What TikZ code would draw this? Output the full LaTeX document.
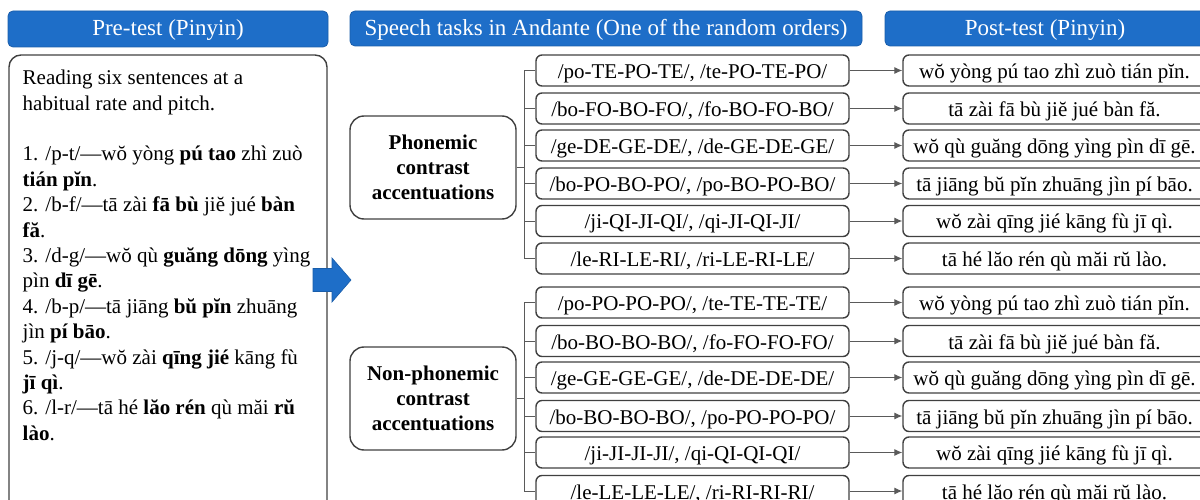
\documentclass[tikz,border=0pt]{standalone}
\usepackage{fontspec}
\setmainfont{Liberation Serif}
\usetikzlibrary{arrows.meta}
\definecolor{hdrblue}{RGB}{30,110,200}
\definecolor{boxline}{RGB}{64,64,64}
\definecolor{conn}{RGB}{90,90,90}
\tikzset{
  hdr/.style={draw=hdrblue!85!black, line width=0.8pt, fill=hdrblue, rounded corners=5pt,
    text=white, font=\fontsize{23}{27}\selectfont, inner sep=0pt,
    text height=18pt, text depth=4pt},
  taskbox/.style={draw=boxline, line width=1.4pt, rounded corners=6pt,
    minimum width=313pt, minimum height=31pt, inner sep=0pt,
    font=\fontsize{21}{25}\selectfont, text height=20pt, text depth=4pt},
  postbox/.style={taskbox, minimum width=303pt},
  catbox/.style={draw=boxline, line width=1.4pt, rounded corners=14pt,
    minimum width=166pt, minimum height=103pt, align=center, inner sep=0pt,
    font=\bfseries\fontsize{21}{25.3}\selectfont},
  bigbox/.style={draw=boxline, line width=1.4pt, rounded corners=12pt, inner sep=0pt},
  link/.style={draw=conn, line width=1pt},
  toarrow/.style={link, -{Latex[length=8pt,width=7pt]}}
}
\begin{document}
\begin{tikzpicture}[x=1pt,y=-1pt]
\useasboundingbox (0,0) rectangle (1200,500);
\begin{scope}
\clip (0,0) rectangle (1200,500);
% headers
\node[hdr, minimum width=320pt, minimum height=36pt] (h1) at (168,29) {Pre-test (Pinyin)};
\node[hdr, minimum width=512pt, minimum height=35pt] (h2) at (606,28.5) {Speech tasks in Andante (One of the random orders)};
\node[hdr, minimum width=320pt, minimum height=35pt] (h3) at (1045,28.5) {Post-test (Pinyin)};
% pre-test box
\node[bigbox, minimum width=318pt, minimum height=470pt] (prebox) at (168,290) {};
\node[anchor=north west, align=left, inner sep=0pt, font=\fontsize{21}{25.4}\selectfont] (pretext) at (22.5,70)
{Reading six sentences at a\\
habitual rate and pitch.\\
\mbox{}\\
1. /p-t/—wŏ yòng \textbf{pú tao} zhì zuò\\
\textbf{tián pĭn}.\\
2. /b-f/—tā zài \textbf{fā bù} jiĕ jué \textbf{bàn}\\
\textbf{fă}.\\
3. /d-g/—wŏ qù \textbf{guăng dōng} yìng\\
pìn \textbf{dī gē}.\\
4. /b-p/—tā jiāng \textbf{bŭ pĭn} zhuāng\\
jìn \textbf{pí bāo}.\\
5. /j-q/—wŏ zài \textbf{qīng jié} kāng fù\\
\textbf{jī qì}.\\
6. /l-r/—tā hé \textbf{lăo rén} qù măi \textbf{rŭ}\\
\textbf{lào}.};
% big blue arrow
\fill[hdrblue, draw=hdrblue!85!black, line width=0.6pt]
  (313,268.5) -- (332,268.5) -- (332,258) -- (351,280) -- (332,302) -- (332,291.5) -- (313,291.5) -- cycle;
% category boxes
\node[catbox] (pc) at (433,167.5) {Phonemic\\contrast\\accentuations};
\node[catbox] (nc) at (433,398.5) {Non-phonemic\\contrast\\accentuations};
% task boxes
\node[taskbox] (t1) at (692.5,70.5) {/po-TE-PO-TE/, /te-PO-TE-PO/};
\node[taskbox] (t2) at (692.5,108.5) {/bo-FO-BO-FO/, /fo-BO-FO-BO/};
\node[taskbox] (t3) at (692.5,145.5) {/ge-DE-GE-DE/, /de-GE-DE-GE/};
\node[taskbox] (t4) at (692.5,183.5) {/bo-PO-BO-PO/, /po-BO-PO-BO/};
\node[taskbox] (t5) at (692.5,221) {/ji-QI-JI-QI/, /qi-JI-QI-JI/};
\node[taskbox] (t6) at (692.5,258.5) {/le-RI-LE-RI/, /ri-LE-RI-LE/};
\node[taskbox] (t7) at (692.5,302.5) {/po-PO-PO-PO/, /te-TE-TE-TE/};
\node[taskbox] (t8) at (692.5,341) {/bo-BO-BO-BO/, /fo-FO-FO-FO/};
\node[taskbox] (t9) at (692.5,377.5) {/ge-GE-GE-GE/, /de-DE-DE-DE/};
\node[taskbox] (t10) at (692.5,416) {/bo-BO-BO-BO/, /po-PO-PO-PO/};
\node[taskbox] (t11) at (692.5,452.5) {/ji-JI-JI-JI/, /qi-QI-QI-QI/};
\node[taskbox] (t12) at (692.5,491) {/le-LE-LE-LE/, /ri-RI-RI-RI/};
% post boxes
\node[postbox] (p1) at (1054.5,70.5) {wŏ yòng pú tao zhì zuò tián pĭn.};
\node[postbox] (p2) at (1054.5,108.5) {tā zài fā bù jiĕ jué bàn fă.};
\node[postbox] (p3) at (1054.5,145.5) {wŏ qù guăng dōng yìng pìn dī gē.};
\node[postbox] (p4) at (1054.5,183.5) {tā jiāng bŭ pĭn zhuāng jìn pí bāo.};
\node[postbox] (p5) at (1054.5,221) {wŏ zài qīng jié kāng fù jī qì.};
\node[postbox] (p6) at (1054.5,258.5) {tā hé lăo rén qù măi rŭ lào.};
\node[postbox] (p7) at (1054.5,302.5) {wŏ yòng pú tao zhì zuò tián pĭn.};
\node[postbox] (p8) at (1054.5,341) {tā zài fā bù jiĕ jué bàn fă.};
\node[postbox] (p9) at (1054.5,377.5) {wŏ qù guăng dōng yìng pìn dī gē.};
\node[postbox] (p10) at (1054.5,416) {tā jiāng bŭ pĭn zhuāng jìn pí bāo.};
\node[postbox] (p11) at (1054.5,452.5) {wŏ zài qīng jié kāng fù jī qì.};
\node[postbox] (p12) at (1054.5,491) {tā hé lăo rén qù măi rŭ lào.};
% bracket connectors
\coordinate (jp) at (524,167.5);
\coordinate (jn) at (524,398.5);
\draw[link] (pc.east) -- (jp);
\draw[link] (nc.east) -- (jn);
\draw[link] (t1.west -| jp) -- (t6.west -| jp);
\draw[link] (t7.west -| jn) -- (t12.west -| jn);
\foreach \i in {1,...,6} { \draw[link] (t\i.west -| jp) -- (t\i.west); }
\foreach \i in {7,...,12} { \draw[link] (t\i.west -| jn) -- (t\i.west); }
% arrows to post-test
\foreach \i in {1,...,12} { \draw[toarrow] (t\i.east) -- (p\i.west); }
\end{scope}
\end{tikzpicture}
\end{document}
